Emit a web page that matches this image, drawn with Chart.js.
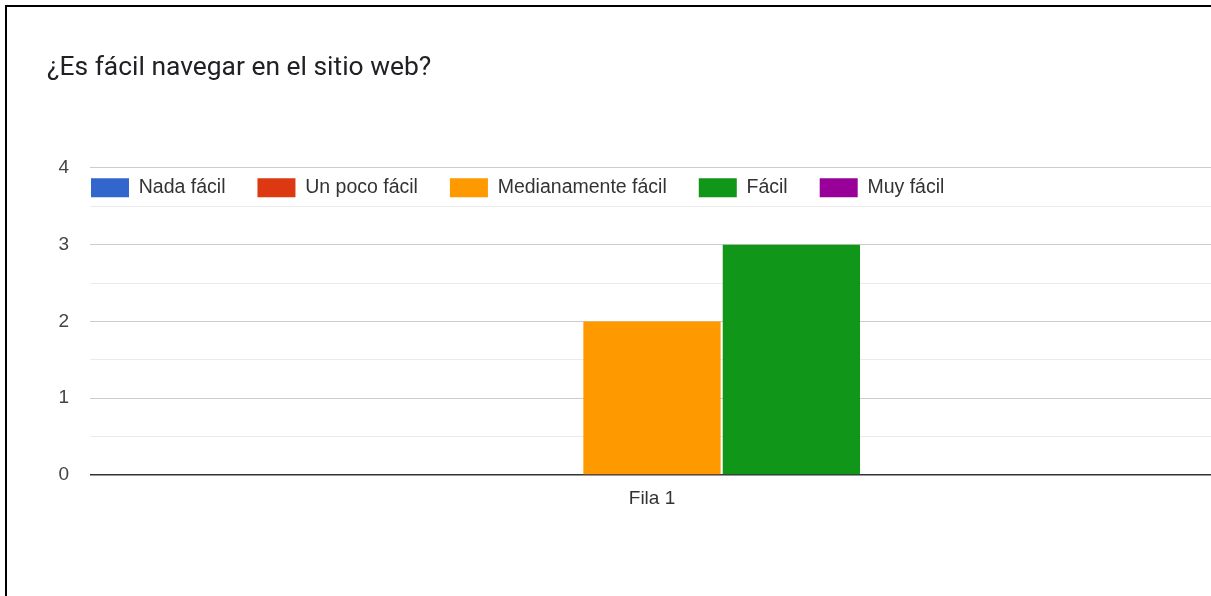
<!DOCTYPE html>
<html>
<head>
<meta charset="utf-8">
<script src="https://cdn.jsdelivr.net/npm/chart.js@4"></script>
<style>
  html, body { margin: 0; padding: 0; background: #fff; overflow: hidden; }
  #wrap { position: relative; width: 1211px; height: 596px; overflow: hidden; background: #fff; }
  #cbox { position: absolute; left: 0; top: 0; width: 1214px; height: 596px; }
  #frame { position: absolute; left: 5px; top: 5px; width: 1400px; height: 800px;
           border-left: 2px solid #000; border-top: 2px solid #000; pointer-events: none; }
</style>
</head>
<body>
<div id="wrap">
  <div id="cbox"><canvas id="c" width="1214" height="596"></canvas></div>
  <div id="frame"></div>
</div>
<script>
const chartTitle = '¿Es fácil navegar en el sitio web?';
const categories = ['Fila 1'];
const seriesNames = ['Nada fácil', 'Un poco fácil', 'Medianamente fácil', 'Fácil', 'Muy fácil'];
const nadaFacil = [0];
const unPocoFacil = [0];
const medianamenteFacil = [2];
const facil = [3];
const muyFacil = [0];
const seriesColors = ['#3366cc', '#dc3912', '#ff9900', '#109618', '#990099'];
const yTickLabels = ['0', '1', '2', '3', '4'];

const seriesValues = [nadaFacil, unPocoFacil, medianamenteFacil, facil, muyFacil];

const datasets = seriesNames.map((name, i) => ({
  label: name,
  data: seriesValues[i],
  backgroundColor: seriesColors[i],
  borderWidth: 0,
  categoryPercentage: 0.62,
  barPercentage: 0.985
}));

const LEG_PAD = 32;
const legendShift = {
  id: 'legendShift',
  afterLayout(chart) {
    const lg = chart.legend;
    if (!lg) return;
    const w = lg.right - lg.left;
    lg.left = chart.chartArea.left + 1 - LEG_PAD;
    lg.right = lg.left + w;
    const h = lg.bottom - lg.top;
    lg.top = chart.chartArea.top + 10 - LEG_PAD;
    lg.bottom = lg.top + h;
  }
};

new Chart(document.getElementById('c'), {
  type: 'bar',
  data: { labels: categories, datasets },
  plugins: [legendShift],
  options: {
    responsive: false,
    animation: false,
    layout: { padding: { left: 47, top: 0, right: 0, bottom: 0 } },
    plugins: {
      tooltip: { enabled: false },
      title: {
        display: true,
        text: chartTitle,
        align: 'start',
        color: '#202124',
        font: { family: 'Roboto', size: 26.4, weight: 'normal', lineHeight: 1.2 },
        padding: { top: 53, bottom: 21.8 }
      },
      legend: {
        position: 'top',
        align: 'start',
        labels: {
          boxWidth: 38,
          boxHeight: 19,
          padding: LEG_PAD,
          color: '#333',
          font: { family: 'Liberation Sans, Arial', size: 19.5 }
        }
      }
    },
    scales: {
      x: {
        grid: { display: false, drawTicks: false },
        border: { display: false },
        ticks: {
          color: '#333',
          padding: 12,
          font: { family: 'Liberation Sans, Arial', size: 19 }
        },
        afterFit(scale) { scale.height = 121; }
      },
      y: {
        min: 0,
        max: 4,
        border: { display: false },
        grid: {
          drawTicks: false,
          color: (ctx) => {
            const v = ctx.tick ? ctx.tick.value : 0;
            if (v === 0) return '#333';
            return Number.isInteger(v) ? '#cccccc' : '#ebebeb';
          },
          lineWidth: (ctx) => (ctx.tick && ctx.tick.value === 0) ? 1.5 : 1
        },
        ticks: {
          stepSize: 0.5,
          color: '#444',
          padding: 21,
          font: { family: 'Liberation Sans, Arial', size: 19 },
          callback: (v) => Number.isInteger(v) ? yTickLabels[v] : ''
        },
        afterFit(scale) { scale.width = 43; }
      }
    }
  }
});
</script>
</body>
</html>
